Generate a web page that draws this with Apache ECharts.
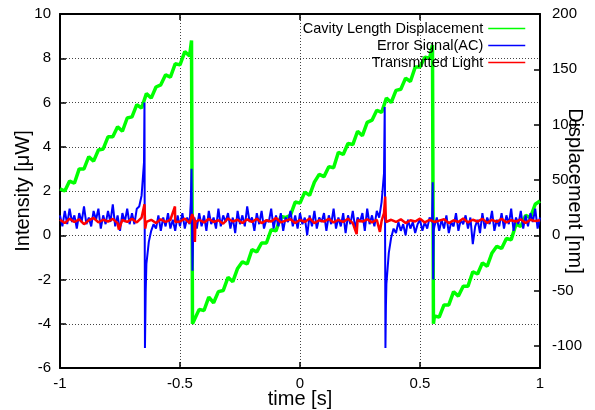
<!DOCTYPE html>
<html>
<head>
<meta charset="utf-8">
<script src="https://cdn.jsdelivr.net/npm/echarts@6/dist/echarts.min.js"></script>
<style>
  html, body { margin: 0; padding: 0; background: #fff; }
  #chart { width: 595px; height: 410px; }
</style>
</head>
<body>
<div id="chart"></div>
<script>
// axes
const timeTicks = [-1, -0.5, 0, 0.5, 1];
const dispTicks = [-100, -50, 0, 50, 100, 150, 200];

// cavity length displacement [nm], sampled every 0.02 s from -1 s
const greenStep = 0.02;
const greenGrid = [
  42, 40, 49, 47, 60, 60, 71, 67, 77, 78, 89, 89, 98, 94, 106, 107, 118, 115, 128, 124,
  134, 136, 145, 143, 155, 154, 166, 162,
  -79, -67, -68, -56, -61, -51, -50, -38, -42, -30, -24, -26, -13, -15, -7, -7, 5, 4, 17, 16,
  18, 30, 29, 39, 36, 48, 55, 53, 62, 61, 75, 73, 83, 82, 94, 90, 102, 104, 113, 111,
  124, 120, 131, 132, 142, 139, 152, 152, 161, 160,
  -73, -74, -63, -63, -51, -55, -46, -46, -33, -35, -25, -28, -16, -10, -12, -3, -4, 10, 8, 18,
  16, 28, 31
];
// peaks and resets of the sawtooth
const greenEventT = [-0.452, -0.448, 0.552, 0.556];
const greenEventV = [176, -80, 172, -80];

// error signal (AC) [uW], sampled every 0.01 s from -1 s
const blueStep = 0.01;
const blueGrid = [
  0.9, 0.4, 1.1, 0.5, 1.2, 0.6, 0.9, 0.3, 1.0, 0.6,
  1.3, 0.5, 0.8, 0.4, 1.1, 0.7, 1.2, 0.3, 0.9, 0.5,
  1.1, 0.6, 1.4, 0.4, 0.9, 0.2, 1.0, 0.6, 1.2, 0.5,
  1.0, 0.5, 1.2, 1.3, 1.8, 3.3, -1.3, -0.3, 0.2, 0.5,
  0.3, 0.9, 0.2, 0.8, 0.4, 1.0, 0.3, 0.7, 0.2, 0.9,
  0.4, 1.0, 0.3, 0.8, 0.5, 0.4, 0.8, 0.3, 1.0, 0.4,
  0.9, 0.2, 1.1, 0.5, 0.8, 0.3, 1.2, 0.4, 0.9, 0.6,
  1.0, 0.3, 0.8, 0.1, 1.1, 0.5, 0.9, 0.4, 1.3, 0.6,
  0.8, 0.2, 1.0, 0.5, 1.1, 0.3, 0.7, 0.6, 1.2, 0.3,
  0.9, 0.4, 1.0, 0.2, 0.8, 0.6, 1.1, 0.4, 0.9, 0.3,
  1.0, 0.5, 0.8, 0.0, 0.9, 0.4, 1.1, 0.3, 0.8, 0.6,
  1.0, 0.2, 0.9, 0.5, 1.2, 0.3, 0.8, 0.4, 1.0, 0.1,
  0.9, 0.5, 1.1, 0.3, 0.8, 0.6, 1.0, 0.2, 1.2, 0.5,
  0.9, 0.4, 1.1, 0.8, 1.5, 2.8, -2.2, -0.8, -0.1, 0.3,
  0.1, 0.6, 0.2, 0.5, 0.0, 0.7, 0.3, 0.6, 0.1, 0.5,
  0.7, 0.2, 0.6, 0.3, 0.8, 0.6, 0.4, 0.8, 0.2, 0.7,
  0.3, 0.9, 0.1, 0.6, 0.4, 1.0, 0.2, 0.7, 0.5, 0.9,
  0.3, 0.8, -0.4, 0.4, 0.7, 0.1, 1.0, 0.3, 0.8, 0.5,
  1.1, 0.2, 0.7, 0.4, 1.0, 0.3, 0.9, 0.5, 1.2, 0.2,
  0.8, 0.5, 1.1, 0.3, 0.9, 0.4, 1.0, 0.6, 1.2, 0.3, 0.8
];
const blueEventT = [-0.648, -0.646, -0.643, -0.455, -0.452, -0.448, -0.445, 0.353, 0.356, 0.358, 0.553, 0.555, 0.557];
const blueEventV = [6.0, -5.1, -2.6, 1.5, 3.0, -1.6, 0.2, 5.8, -5.1, -3.2, 2.4, -2.0, 0.2];

// transmitted light [uW], sampled every 0.02 s from -1 s
const redStep = 0.02;
const redGrid = [
  0.7, 0.55, 0.75, 0.6, 0.72, 0.5, 0.68, 0.78, 0.58, 0.7,
  0.62, 0.74, 0.55, 0.7, 0.6, 0.75, 0.58, 0.8, 0.6, 0.7,
  0.55, 0.72, 0.6, 0.7, 0.6, 0.62, 0.75, 0.55, 0.65, 0.7,
  0.58, 0.74, 0.6, 0.68, 0.52, 0.76, 0.62, 0.7, 0.55, 0.72,
  0.6, 0.75, 0.55, 0.68, 0.62, 0.78, 0.58, 0.66, 0.72, 0.55,
  0.7, 0.6, 0.76, 0.55, 0.68, 0.62, 0.74, 0.58, 0.7, 0.6,
  0.75, 0.55, 0.68, 0.62, 0.72, 0.58, 0.7, 0.65, 0.6, 0.7,
  0.6, 0.72, 0.55, 0.68, 0.62, 0.75, 0.58, 0.7, 0.6, 0.66,
  0.72, 0.55, 0.68, 0.6, 0.76, 0.58, 0.7, 0.62, 0.74, 0.56,
  0.7, 0.6, 0.75, 0.58, 0.68, 0.62, 0.72, 0.55, 0.7, 0.64, 0.68
];
const redEventT = [-0.755, -0.648, -0.645, -0.521, -0.449, -0.438, -0.436, 0.236, 0.333, 0.35, 0.355, 0.358];
const redEventV = [0.26, 1.4, 0.3, 1.3, 0.95, -0.3, 0.6, 0.05, 0.15, 1.0, 1.75, 0.6];

function buildSeries(step, grid, evT, evV) {
  const pts = grid.map((v, i) => [+(-1 + i * step).toFixed(3), v]);
  evT.forEach((t, i) => pts.push([t, evV[i]]));
  pts.sort((a, b) => a[0] - b[0]);
  return pts;
}

const font = "'Liberation Sans', Arial, sans-serif";
const chart = echarts.init(document.getElementById('chart'), null, { renderer: 'canvas' });

const gridLine = { show: true, lineStyle: { color: '#444', width: 1, type: [1, 2] } };
const frame = { show: true, onZero: false, lineStyle: { color: '#000', width: 2 } };
const tick = { show: true, inside: true, length: 6, lineStyle: { color: '#000', width: 1.5 } };
const label = { color: '#000', fontSize: 15, fontFamily: font };
const nameStyle = { color: '#000', fontSize: 20, fontFamily: font };

const option = {
  animation: false,
  grid: { left: 60, right: 55, top: 14, bottom: 42, outerBoundsMode: 'none', containLabel: false },
  legend: {
    orient: 'vertical',
    right: 69,
    top: 21,
    padding: 0,
    align: 'right',
    itemWidth: 37,
    itemHeight: 15,
    itemGap: 2,
    selectedMode: false,
    textStyle: { color: '#000', fontSize: 14.5, fontFamily: font },
    lineStyle: { width: 1.5 },
    itemStyle: { opacity: 0 },
    data: ['Cavity Length Displacement', 'Error Signal(AC)', 'Transmitted Light']
  },
  xAxis: [
    {
      type: 'value', position: 'bottom', min: -1, max: 1, interval: 0.5,
      name: 'time [s]', nameLocation: 'middle', nameGap: 21, nameMoveOverlap: false,
      nameTextStyle: nameStyle,
      axisLine: frame, axisTick: tick,
      axisLabel: Object.assign({ margin: 8, customValues: timeTicks }, label),
      splitLine: gridLine
    },
    {
      type: 'value', position: 'top', min: -1, max: 1, interval: 0.5,
      axisLine: frame, axisTick: tick, axisLabel: { show: false }, splitLine: { show: false }
    }
  ],
  yAxis: [
    {
      type: 'value', position: 'left', min: -6, max: 10, interval: 2,
      name: 'Intensity [μW]', nameLocation: 'middle', nameGap: 27, nameMoveOverlap: false,
      nameTextStyle: nameStyle,
      axisLine: frame, axisTick: tick,
      axisLabel: Object.assign({ margin: 9 }, label),
      splitLine: gridLine
    },
    {
      type: 'value', position: 'right', min: -120, max: 200,
      name: 'Displacement [nm]', nameLocation: 'middle', nameGap: 25, nameRotate: -90, nameMoveOverlap: false,
      nameTextStyle: nameStyle,
      axisLine: frame,
      axisTick: Object.assign({ customValues: dispTicks }, tick),
      axisLabel: Object.assign({ margin: 12, customValues: dispTicks }, label),
      splitLine: { show: false }
    }
  ],
  series: [
    {
      name: 'Cavity Length Displacement', type: 'line', yAxisIndex: 1,
      symbol: 'none', lineStyle: { color: '#00ff00', width: 3.5 }, itemStyle: { color: '#00ff00' },
      data: buildSeries(greenStep, greenGrid, greenEventT, greenEventV)
    },
    {
      name: 'Error Signal(AC)', type: 'line', yAxisIndex: 0,
      symbol: 'none', lineStyle: { color: '#0000ff', width: 2 }, itemStyle: { color: '#0000ff' },
      data: buildSeries(blueStep, blueGrid, blueEventT, blueEventV)
    },
    {
      name: 'Transmitted Light', type: 'line', yAxisIndex: 0,
      symbol: 'none', lineStyle: { color: '#ff0000', width: 2.5 }, itemStyle: { color: '#ff0000' },
      data: buildSeries(redStep, redGrid, redEventT, redEventV)
    }
  ]
};

chart.setOption(option);
window.addEventListener('resize', function () { chart.resize(); });
</script>
</body>
</html>
